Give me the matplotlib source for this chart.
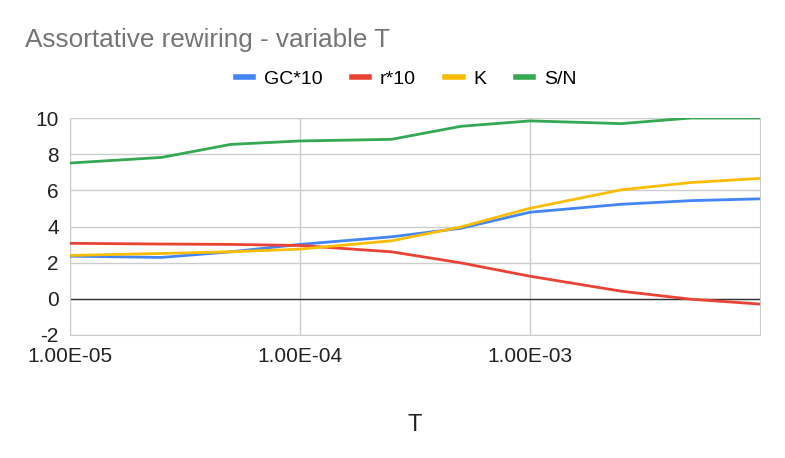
import matplotlib
matplotlib.use('Agg')
import matplotlib.pyplot as plt
from matplotlib.ticker import FixedLocator, NullLocator

plt.rcParams['font.family'] = ['Liberation Sans', 'DejaVu Sans']
plt.rcParams['axes.unicode_minus'] = False

# Données
T = [1e-5, 2.5e-5, 5e-5, 1e-4, 2.5e-4, 5e-4, 1e-3, 2.5e-3, 5e-3, 1e-2]
gc10 = [2.36, 2.29, 2.6, 3.01, 3.43, 3.9, 4.79, 5.23, 5.43, 5.53]
r10 = [3.07, 3.03, 3.01, 2.95, 2.6, 1.99, 1.25, 0.42, -0.02, -0.29]
k = [2.4, 2.51, 2.6, 2.75, 3.21, 3.97, 5.01, 6.03, 6.43, 6.66]
sn = [7.51, 7.82, 8.54, 8.73, 8.82, 9.54, 9.84, 9.69, 10.0, 10.0]

x_ticks = [1e-5, 1e-4, 1e-3]
x_labels = ['1.00E-05', '1.00E-04', '1.00E-03']
y_ticks = [-2, 0, 2, 4, 6, 8, 10]

fig = plt.figure(figsize=(7.85, 4.58), dpi=100)
ax = fig.add_axes([70 / 785, 1 - 335 / 458, 690 / 785, 217 / 458])

ax.plot(T, gc10, color='#4285F4', lw=2, label='GC*10', zorder=3)
ax.plot(T, r10, color='#EA4335', lw=2, label='r*10', zorder=3)
ax.plot(T, k, color='#FBBC04', lw=2, label='K', zorder=3)
ax.plot(T, sn, color='#34A853', lw=2, label='S/N', zorder=3)

ax.set_xscale('log')
ax.set_xlim(1e-5, 1e-2)
ax.set_ylim(-2, 10)
ax.xaxis.set_major_locator(FixedLocator(x_ticks))
ax.xaxis.set_minor_locator(NullLocator())
ax.set_xticklabels(x_labels)
ax.set_yticks(y_ticks)

ax.grid(True, color='#cccccc', lw=1)
ax.axhline(0, color='#333333', lw=1, zorder=2)
for s in ax.spines.values():
    s.set_color('#cccccc')
ax.tick_params(axis='x', length=0, labelsize=15, colors='#222222', pad=9)
ax.tick_params(axis='y', length=0, labelsize=15, colors='#222222', pad=8)

ax.set_xlabel('T', fontsize=17, color='#222222', labelpad=34)
fig.text(25 / 785, 1 - 40 / 458, 'Assortative rewiring - variable T',
         fontsize=18.8, color='#757575', va='center')
fig.legend(loc='center', bbox_to_anchor=(406 / 785, 1 - 79 / 458), ncol=4,
           frameon=False, fontsize=14, handlelength=0.9, handletextpad=0.55,
           columnspacing=1.5)
for line in fig.legends[0].get_lines():
    line.set_linewidth(4)

fig.savefig('out.png', dpi=100)
